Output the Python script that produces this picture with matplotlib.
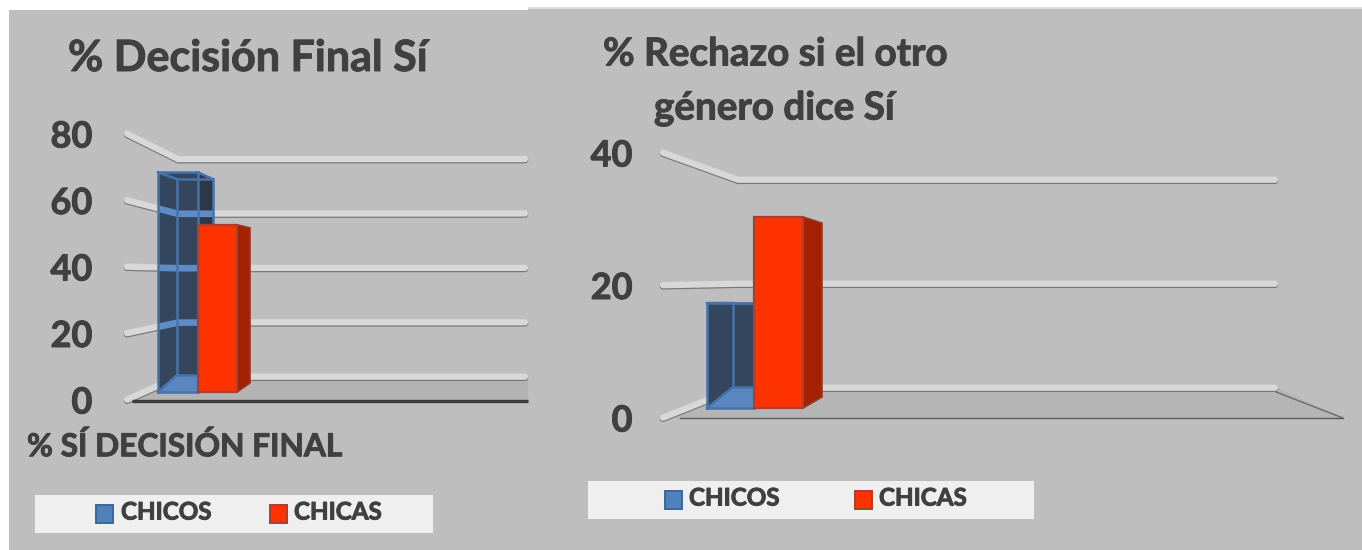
#!/usr/bin/env python3
import matplotlib
matplotlib.use("Agg")
import matplotlib.pyplot as plt
import matplotlib.patheffects as pe
from matplotlib.patches import Polygon, Rectangle

plt.rcParams['font.family'] = ['Lato', 'DejaVu Sans']
plt.rcParams['font.weight'] = 'bold'

# data
series_names = ['CHICOS', 'CHICAS']
decision_values = [72, 55]
decision_ticks = [0, 20, 40, 60, 80]
rechazo_values = [18, 33]
rechazo_ticks = [0, 20, 40]

W, H = 1362, 550
TEXT = '#404040'
BG = '#bebebe'
BLUE = '#4f81bd'
RED = '#ff3300'
HEAVY = [pe.withStroke(linewidth=0.7, foreground=TEXT)]

fig = plt.figure(figsize=(W / 100, H / 100), dpi=100, facecolor='white')


def fig_box(x0, y0, x1, y1, **kw):
    fig.patches.append(Rectangle((x0 / W, 1 - y1 / H), (x1 - x0) / W, (y1 - y0) / H,
                                 transform=fig.transFigure, figure=fig, **kw))


def fig_text(x, y, s, size, ha='left'):
    fig.text(x / W, 1 - y / H, s, fontsize=size, color=TEXT, ha=ha, va='center', path_effects=HEAVY)


class Wall:
    """Axes in which x is in pixels and y is the value on the front of the side wall."""

    def __init__(self, x0, x1, y_top, y_bottom, ticks, pad):
        self.ax = fig.add_axes([x0 / W, 1 - y_bottom / H, (x1 - x0) / W, (y_bottom - y_top) / H])
        self.ax.set_xlim(x0, x1)
        self.ax.set_ylim(ticks[0], ticks[-1])
        self.ax.set_facecolor('none')
        for sp in self.ax.spines.values():
            sp.set_visible(False)
        self.ax.set_xticks([])
        self.ax.set_yticks(ticks)
        self.ax.tick_params(axis='y', length=0, pad=pad, labelsize=26, labelcolor=TEXT)
        for lb in self.ax.get_yticklabels():
            lb.set_path_effects(HEAVY)
        self.y_bottom = y_bottom
        self.px = (y_bottom - y_top) / ticks[-1]

    def y(self, value, base, scale):
        # value on a depth plane with its own base line and scale, all in pixels
        return (self.y_bottom - base + value * scale) / self.px

    def pix(self, py):
        return (self.y_bottom - py) / self.px

    def ribbon(self, xs, ys, color='#d8d8d8', clip=None):
        ax = self.ax
        if clip is None:
            low = [v - 0.7 / self.px for v in ys]
            up = [v + 0.3 / self.px for v in ys]
            ax.plot(xs, low, color='#777777', lw=4.8, solid_capstyle='round',
                    solid_joinstyle='miter', clip_on=False, zorder=2)
            ax.plot(xs, up, color=color, lw=4.5, solid_capstyle='round',
                    solid_joinstyle='miter', clip_on=False, zorder=3)
        else:
            ln, = ax.plot(xs, ys, color=color, lw=4.8, solid_capstyle='butt',
                          solid_joinstyle='miter', zorder=6)
            ln.set_clip_path(clip)

    def poly(self, pts, face, edge='none', lw=0, z=5, alpha=None):
        p = Polygon(pts, closed=True, facecolor=face, edgecolor=edge, linewidth=lw,
                    joinstyle='miter', zorder=z, alpha=alpha, clip_on=False)
        self.ax.add_patch(p)
        return p


def glass_bar(w, value, fx0, fx1, bx0, bx1, fbase, fscale, bbase, bscale):
    f0, f1 = w.y(0, fbase, fscale), w.y(value, fbase, fscale)
    b0, b1 = w.y(0, bbase, bscale), w.y(value, bbase, bscale)
    edge = '#4673ac'
    sil = w.poly([(fx0, f0), (fx1, f0), (bx1, b0), (bx1, b1), (fx1, f1), (fx0, f1)], '#34455e', z=5)
    w.poly([(fx1, f0), (bx1, b0), (bx1, b1), (fx1, f1)], '#2c3848', z=5)
    w.poly([(fx0, f0), (fx1, f0), (bx1, b0), (bx0, b0)], '#5b87c0', z=5)
    lines = [[(fx0, f0), (fx1, f0), (fx1, f1), (fx0, f1), (fx0, f0)],
             [(bx0, b0), (bx1, b0), (bx1, b1), (bx0, b1), (bx0, b0)],
             [(fx0, f1), (bx0, b1)], [(fx1, f1), (bx1, b1)],
             [(fx0, f0), (bx0, b0)], [(fx1, f0), (bx1, b0)]]
    for seg in lines:
        w.ax.plot([p[0] for p in seg], [p[1] for p in seg], color=edge, lw=1.8,
                  clip_on=False, zorder=7, solid_joinstyle='miter')
    return sil


def solid_bar(w, value, fx0, fx1, bx1, fbase, fscale, bbase, bscale):
    f0, f1 = w.y(0, fbase, fscale), w.y(value, fbase, fscale)
    b0, b1 = w.y(0, bbase, bscale), w.y(value, bbase, bscale)
    w.poly([(fx1, f0), (bx1, b0), (bx1, b1), (fx1, f1)], '#a32000', '#8f3a2c', 1.2, z=8)
    w.ax.bar((fx0 + fx1) / 2, f1 - f0, width=fx1 - fx0, bottom=f0, color=RED,
             edgecolor='#a8402f', linewidth=1.6, zorder=9, clip_on=False)


# panel backgrounds
fig_box(9, 10, 528, H, facecolor=BG, edgecolor='none', zorder=-2)
fig_box(528, 8, W, H, facecolor=BG, edgecolor='none', zorder=-1)
fig_box(528, 7, W, 9, facecolor='#dedede', edgecolor='none', zorder=-1)

# ---- left chart
left = Wall(127, 528, 134, 400, decision_ticks, 25)
left.poly([(127, 0), (178, left.pix(377)), (528, left.pix(377)), (528, 0)], '#b3b3b3', z=1)
for v in decision_ticks:
    left.ribbon([127, 178, 525], [v, left.y(v, 377, 2.72), left.y(v, 377, 2.72)])
left.ax.plot([132, 528], [left.pix(401)] * 2, color='#3c3c3c', lw=2.4, clip_on=False,
             solid_capstyle='butt', zorder=4)
sil = glass_bar(left, decision_values[0], 158, 198, 177, 213, 392, 3.05, 375, 2.72)
for v in decision_ticks[1:-1]:
    left.ribbon([127, 178, 525], [v, left.y(v, 377, 2.72), left.y(v, 377, 2.72)],
                color='#5f8cc4', clip=sil)
solid_bar(left, decision_values[1], 198, 237, 250, 392, 3.04, 383, 2.82)

# ---- right chart
right = Wall(663, 1343, 153, 418, rechazo_ticks, 22)
right.poly([(663, 0), (738, right.pix(388)), (1278, right.pix(388)), (1343, 0)], '#b5b5b5', z=1)
for v in rechazo_ticks:
    right.ribbon([663, 738, 1275], [v, right.y(v, 388, 5.2), right.y(v, 388, 5.2)])
right.ax.plot([680, 1343], [right.pix(418)] * 2, color='#5a5a5a', lw=1.0, clip_on=False, zorder=4)
right.ax.plot([1276, 1343], [right.pix(392), right.pix(418)], color='#6a6a6a', lw=1.0,
              clip_on=False, zorder=4)
glass_bar(right, rechazo_values[0], 707, 754, 733, 770, 408, 5.83, 387, 4.67)
solid_bar(right, rechazo_values[1], 754, 803, 822, 408, 5.79, 397, 5.27)

# ---- titles
fig_text(68, 58, '% Decisión Final Sí', 31)
fig_text(603, 54, '% Rechazo si el otro', 27.8)
fig_text(654, 108, 'género dice Sí', 27.8)
fig_text(27, 446, '% SÍ DECISIÓN FINAL', 22.8)

# ---- legends
fig_box(35, 495, 433, 533, facecolor='#efefef', edgecolor='none', zorder=1)
fig_box(588, 481, 1034, 519, facecolor='#efefef', edgecolor='none', zorder=1)
legend_rows = [(96, 270, 121, 294, 514), (665, 855, 689, 879, 500)]
for sx0, sx1, tx0, tx1, cy in legend_rows:
    fig_box(sx0, cy - 9, sx0 + 17, cy + 9, facecolor=BLUE, edgecolor='#3a679c', linewidth=1.4, zorder=2)
    fig_box(sx1, cy - 9, sx1 + 17, cy + 9, facecolor=RED, edgecolor='#a8402f', linewidth=1.4, zorder=2)
    fig_text(tx0, cy - 2, series_names[0], 17.4)
    fig_text(tx1, cy - 2, series_names[1], 17.4)

fig.savefig('out.png', dpi=100)
